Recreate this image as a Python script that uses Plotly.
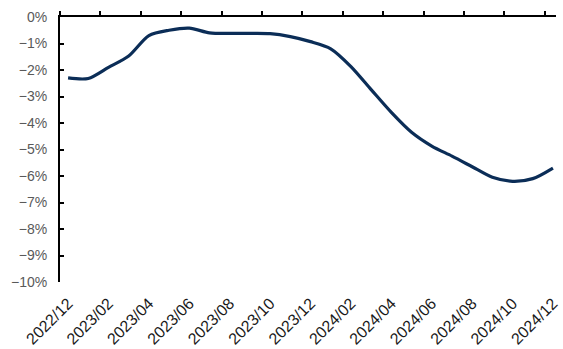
import plotly.graph_objects as go

# Monthly series (%, month-end readings)
months = [
    "2022/12", "2023/01", "2023/02", "2023/03", "2023/04", "2023/05", "2023/06",
    "2023/07", "2023/08", "2023/09", "2023/10", "2023/11", "2023/12",
    "2024/01", "2024/02", "2024/03", "2024/04", "2024/05", "2024/06",
    "2024/07", "2024/08", "2024/09", "2024/10", "2024/11", "2024/12",
]
values = [
    -2.30, -2.32, -1.90, -1.47, -0.70, -0.50, -0.42,
    -0.60, -0.62, -0.62, -0.63, -0.74, -0.93,
    -1.20, -1.87, -2.74, -3.60, -4.35, -4.87,
    -5.25, -5.65, -6.05, -6.20, -6.10, -5.70,
]
label_months = months[::2]
y_ticks = list(range(-10, 1))
y_labels = [("\u2212" if v < 0 else "") + f"{abs(v)}%" for v in y_ticks]

x_range = [-0.4, 24.15]
top_ticks = [x_range[0] + 2 * j for j in range(13)]

fig = go.Figure()
fig.add_trace(go.Scatter(
    x=months, y=values, mode="lines",
    line=dict(color="#0b2d57", width=3.2, shape="spline", smoothing=0.8),
    hoverinfo="skip", showlegend=False,
))
# invisible trace that carries the top axis with its tick marks
fig.add_trace(go.Scatter(x=[x_range[0]], y=[0], xaxis="x2", mode="markers",
                         marker=dict(opacity=0), showlegend=False, hoverinfo="skip"))

fig.update_layout(
    width=563, height=349,
    margin=dict(l=60, r=7, t=17, b=67),
    paper_bgcolor="white", plot_bgcolor="white",
    font=dict(family="Liberation Sans, Arial, sans-serif"),
    xaxis=dict(
        type="category", range=x_range, automargin=False,
        tickmode="array", tickvals=label_months, ticktext=label_months,
        tickangle=-45, ticks="", showline=False, showgrid=False, zeroline=False,
        tickfont=dict(size=16, color="#1a1a1a"),
        ticklabelstandoff=8,
    ),
    xaxis2=dict(
        overlaying="x", side="top", anchor="y", range=x_range, automargin=False,
        tickmode="array", tickvals=top_ticks, showticklabels=False,
        ticks="outside", ticklen=4, tickwidth=2, tickcolor="black",
        showline=True, linecolor="black", linewidth=2,
        showgrid=False, zeroline=False,
    ),
    yaxis=dict(
        range=[-10, 0], tickmode="array", tickvals=y_ticks, ticktext=y_labels,
        automargin=False,
        ticks="inside", ticklen=4, tickwidth=2, tickcolor="black",
        showline=True, linecolor="black", linewidth=2,
        showgrid=False, zeroline=False,
        tickfont=dict(size=14, color="#595959"),
        ticklabelstandoff=8,
    ),
)

fig.write_html("out.html")
